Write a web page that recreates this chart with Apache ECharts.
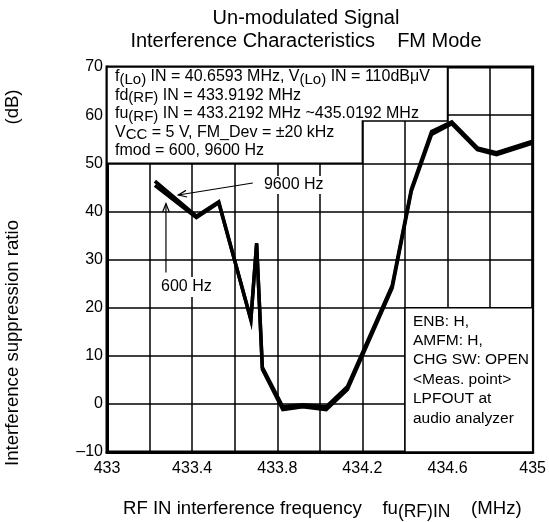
<!DOCTYPE html>
<html><head><meta charset="utf-8">
<script src="https://cdn.jsdelivr.net/npm/echarts@6/dist/echarts.min.js"></script>
<style>html,body{margin:0;padding:0;background:#fff}#c{width:549px;height:522px}</style>
</head><body><div id="c"></div>
<script>
// Data
const freq9600 = [433.225, 433.42, 433.525, 433.676, 433.703, 433.73, 433.826, 433.92, 434.03, 434.13, 434.34, 434.43, 434.525, 434.62, 434.74, 434.83, 435.0];
const supp9600 = [46.3, 39.0, 42.0, 17.4, 33.4, 7.6, -0.6, -0.2, -0.6, 3.6, 24.6, 44.6, 56.6, 58.6, 53.2, 52.2, 54.6];
const freq600  = [433.225, 433.42, 433.525, 433.676, 433.703, 433.73, 433.826, 433.92, 434.03, 434.13, 434.34, 434.43, 434.525, 434.62, 434.74, 434.83, 435.0];
const supp600  = [45.4, 38.7, 41.8, 17.6, 33.2, 7.2, -1.2, -0.6, -1.2, 3.0, 24.1, 44.2, 56.0, 58.2, 52.8, 51.8, 54.2];
const xLabelTicks = ['433', '433.4', '433.8', '434.2', '434.6', '435'];
const yTickLabels = ['–10', '0', '10', '20', '30', '40', '50', '60', '70'];

const FONT = 'Liberation Sans, Arial, Helvetica, sans-serif';
const chart = echarts.init(document.getElementById('c'), null, {renderer: 'canvas'});

function pairs(xs, ys) { return xs.map((x, i) => [x, ys[i]]); }

chart.setOption({
  animation: false,
  backgroundColor: '#fff',
  grid: {left: 107, right: 15, top: 67, bottom: 70, show: true, borderColor: '#000', borderWidth: 3, backgroundColor: '#fff'},
  xAxis: {
    type: 'value', min: 433, max: 435, interval: 0.2,
    axisLine: {show: true, onZero: false, lineStyle: {color: '#000', width: 3}},
    axisTick: {show: false},
    splitLine: {show: true, lineStyle: {color: '#000', width: 1.5}},
    axisLabel: {
      color: '#000', fontFamily: FONT, fontSize: 16, margin: 9,
      formatter: v => {
        const s = String(Math.round(v * 10) / 10);
        return xLabelTicks.indexOf(s) >= 0 ? s : '';
      }
    }
  },
  yAxis: {
    type: 'value', min: -10, max: 70, interval: 10,
    axisLine: {show: true, onZero: false, lineStyle: {color: '#000', width: 3}},
    axisTick: {show: false},
    splitLine: {show: true, lineStyle: {color: '#000', width: 1.5}},
    axisLabel: {
      color: '#000', fontFamily: FONT, fontSize: 16, margin: 4,
      formatter: v => yTickLabels[Math.round((v + 10) / 10)]
    }
  },
  series: [
    {name: '600 Hz', type: 'line', data: pairs(freq600, supp600), symbol: 'none', z: 5,
     lineStyle: {color: '#000', width: 3.5, join: 'miter'}},
    {name: '9600 Hz', type: 'line', data: pairs(freq9600, supp9600), symbol: 'none', z: 5,
     lineStyle: {color: '#000', width: 3.5, join: 'miter'}}
  ]
});

function px(x, y) { return chart.convertToPixel({gridIndex: 0}, [x, y]); }

function makeRich(size, subSize, lh, subLh) {
  return {
    n: {fontFamily: FONT, fontSize: size, lineHeight: lh, verticalAlign: 'middle', fill: '#000'},
    s: {fontFamily: FONT, fontSize: subSize, lineHeight: subLh, verticalAlign: 'bottom', fill: '#000'}
  };
}

function richText(x, y, text, size, subSize, lh, subLh) {
  return {
    type: 'text', x: x, y: y, z: 50,
    style: {text: text, rich: makeRich(size, subSize, lh, subLh), align: 'left', verticalAlign: 'middle', font: size + 'px ' + FONT, fill: '#000'}
  };
}

function arrow(from, to) {
  const [x1, y1] = px(from[0], from[1]);
  const [x2, y2] = px(to[0], to[1]);
  const a = Math.atan2(y1 - y2, x1 - x2);
  const L = 9, sp = 0.38;
  const h1 = [x2 + L * Math.cos(a + sp), y2 + L * Math.sin(a + sp)];
  const h2 = [x2 + L * Math.cos(a - sp), y2 + L * Math.sin(a - sp)];
  return [
    {type: 'polyline', z: 60, shape: {points: [[x1, y1], [x2, y2]]}, style: {stroke: '#000', lineWidth: 1.2, fill: null}},
    {type: 'polyline', z: 60, shape: {points: [h1, [x2, y2], h2]}, style: {stroke: '#000', lineWidth: 1.2, fill: null}}
  ];
}

const topBox = [px(433, 70), px(434.6, 70), px(434.6, 58.8), px(434.2, 58.8), px(434.2, 50), px(433, 50)];
const rb1 = px(434.4, 20), rb2 = px(435, -10);

const boxLines = [
  '{n|f}{s|(Lo)}{n| IN = 40.6593 MHz, V}{s|(Lo)}{n| IN = 110dBμV}',
  '{n|fd}{s|(RF)}{n| IN = 433.9192 MHz}',
  '{n|fu}{s|(RF)}{n| IN = 433.2192 MHz ~435.0192 MHz}',
  '{n|V}{s|CC}{n| = 5 V, FM_Dev = ±20 kHz}',
  '{n|fmod = 600, 9600 Hz}'
];
const boxLineY = [77, 95.5, 114, 132.5, 151];
const noteLines = ['ENB: H,', 'AMFM: H,', 'CHG SW: OPEN', '<Meas. point>', 'LPFOUT at', 'audio analyzer'];
const noteLineY = [322, 341, 360, 379.5, 399, 418.5];

const g = [];
g.push({type: 'polygon', z: 40, shape: {points: topBox}, style: {fill: '#fff', stroke: '#000', lineWidth: 1.5}});
g.push({type: 'rect', z: 40, shape: {x: rb1[0], y: rb1[1], width: rb2[0] - rb1[0], height: rb2[1] - rb1[1]}, style: {fill: '#fff', stroke: '#000', lineWidth: 1.5}});
boxLines.forEach((t, i) => g.push(richText(115, boxLineY[i], t, 16, 15, 20, 11)));
noteLines.forEach((t, i) => g.push({type: 'text', x: 413, y: noteLineY[i], z: 50,
  style: {text: t, font: '15.5px ' + FONT, fill: '#000', align: 'left', verticalAlign: 'middle'}}));

// series annotations
const p9600 = px(433.728, 45.5);
g.push({type: 'text', x: p9600[0], y: p9600[1], z: 55,
  style: {text: '9600 Hz', font: '16px ' + FONT, fill: '#000', align: 'left', verticalAlign: 'middle', backgroundColor: '#fff', padding: [1, 1, 1, 2]}});
const p600 = px(433.249, 24.3);
g.push({type: 'text', x: p600[0], y: p600[1], z: 55,
  style: {text: '600 Hz', font: '16px ' + FONT, fill: '#000', align: 'left', verticalAlign: 'middle', backgroundColor: '#fff', padding: [2, 1, 2, 1]}});
arrow([433.685, 45.9], [433.335, 43.4]).forEach(e => g.push(e));
arrow([433.277, 27.3], [433.277, 41.6]).forEach(e => g.push(e));

// titles
g.push({type: 'text', x: 306, y: 18, z: 50, style: {text: 'Un-modulated Signal', font: '20px ' + FONT, fill: '#000', align: 'center', verticalAlign: 'middle'}});
g.push({type: 'text', x: 306, y: 41, z: 50, style: {text: 'Interference Characteristics    FM Mode', font: '20px ' + FONT, fill: '#000', align: 'center', verticalAlign: 'middle'}});
// axis names
g.push(richText(123, 509, '{n|RF IN interference frequency    fu}{s|(RF)IN}{n|    (MHz)}', 18.6, 17.5, 24, 12));
g.push({type: 'text', x: 13, y: 466, rotation: Math.PI / 2, z: 50,
  style: {text: 'Interference suppression ratio', font: '18.6px ' + FONT, fill: '#000', align: 'left', verticalAlign: 'middle'}});
g.push({type: 'text', x: 13, y: 107, rotation: Math.PI / 2, z: 50,
  style: {text: '(dB)', font: '18.6px ' + FONT, fill: '#000', align: 'center', verticalAlign: 'middle'}});

chart.setOption({graphic: {elements: g}});
</script>
</body></html>
